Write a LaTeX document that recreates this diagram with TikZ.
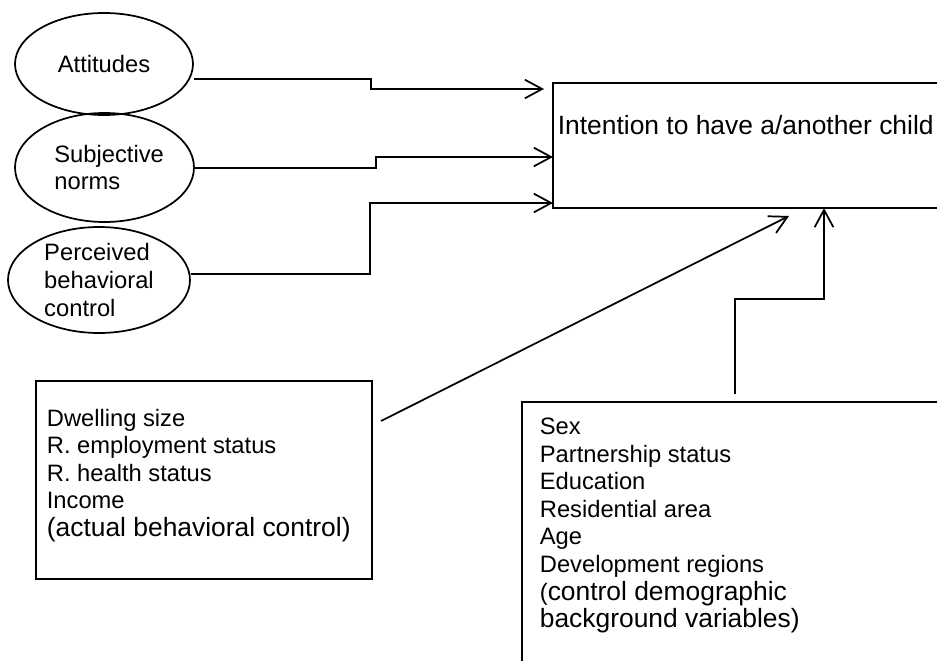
\documentclass[tikz,border=0pt]{standalone}
\usepackage{fontspec}
\setmainfont{Liberation Sans}
\usetikzlibrary{shapes.geometric,arrows.meta}

\newcommand{\smalltxt}{\fontsize{17.8}{20.7}\selectfont}
\newcommand{\bigtxt}{\fontsize{19.8}{20.7}\selectfont}

\tikzset{every picture/.style={line width=1.3pt}}
\tikzset{
	oval/.style={draw, ellipse, align=left, inner sep=0pt, font=\smalltxt},
	frame/.style={draw, rectangle, inner sep=0pt, outer sep=0pt, anchor=north west},
	boxtext/.style={align=left, anchor=north west, inner sep=0pt, font=\smalltxt},
	conn/.style={-{Straight Barb[length=13pt,width=14pt]}}}

\begin{document}
\begin{tikzpicture}[x=0.75pt,y=0.75pt,yscale=-1,xscale=1]
	\clip (0,0) rectangle (937,660);

	%Shape: Ellipse [attitudes]
	\node[oval, minimum width=133.5pt, minimum height=76.5pt] (attitudes) at (104,64) {Attitudes};
	%Shape: Ellipse [subjective]
	\node[oval, minimum width=134.25pt, minimum height=81.75pt] (subjective) at (104.5,167.5) {\hspace*{7pt}Subjective\\\hspace*{7pt}norms};
	%Shape: Ellipse [perceived]
	\node[oval, minimum width=136.5pt, minimum height=79.5pt] (perceived) at (99,280) {Perceived\\behavioral\\control};

	%Shape: Rectangle [intent]
	\node[frame, minimum width=305.25pt, minimum height=93.75pt] (intent) at (553,83) {};
	%Shape: Rectangle [dwell]
	\node[frame, minimum width=252pt, minimum height=148.5pt] (dwell) at (36,381) {};
	%Shape: Rectangle [demo]
	\node[frame, minimum width=328.5pt, minimum height=225pt] (demo) at (522,402) {};

	% Text Node
	\node[boxtext, anchor=base west, font=\bigtxt] (intent-text) at (557,134) {Intention to have a/another child};
	% Text Node
	\node[boxtext] (dwell-text) at (46,408) {Dwelling size\\R. employment status\\R. health status\\Income\\{\bigtxt(actual behavioral control)}};
	% Text Node
	\node[boxtext] (demo-text) at (539,417) {Sex\\Partnership status\\Education\\Residential area\\Age\\Development regions\\({\bigtxt control demographic}\\{\bigtxt background variables)}};

	%Straight Lines [attitudes -> intent]
	\draw[conn, shorten >=6.75pt] (attitudes.east |- 0,79) -- (371,79) -- (371,89) -- (intent.west |- 0,89);
	%Straight Lines [subjective -> intent]
	\draw[conn] (subjective.east |- 0,168) -- (376,168) -- (376,157) -- (intent.west |- 0,157);
	%Straight Lines [perceived -> intent]
	\draw[conn] (perceived.east |- 0,274) -- (370,274) -- (370,203) -- (intent.west |- 0,203);

	%Straight Lines [dwell -> intent]
	\coordinate (dwell-out) at ([shift={(9,40)}]dwell.north east);
	\coordinate (intent-in) at (789,216);
	\draw[conn] (dwell-out) -- (intent-in);
	%Straight Lines [demo -> intent]
	\coordinate (demo-out) at ([shift={(213,-8)}]demo.north west);
	\draw[conn] (demo-out) -- (735,299) -- (824,299) -- (intent.south west -| 824,0);

\end{tikzpicture}
\end{document}
